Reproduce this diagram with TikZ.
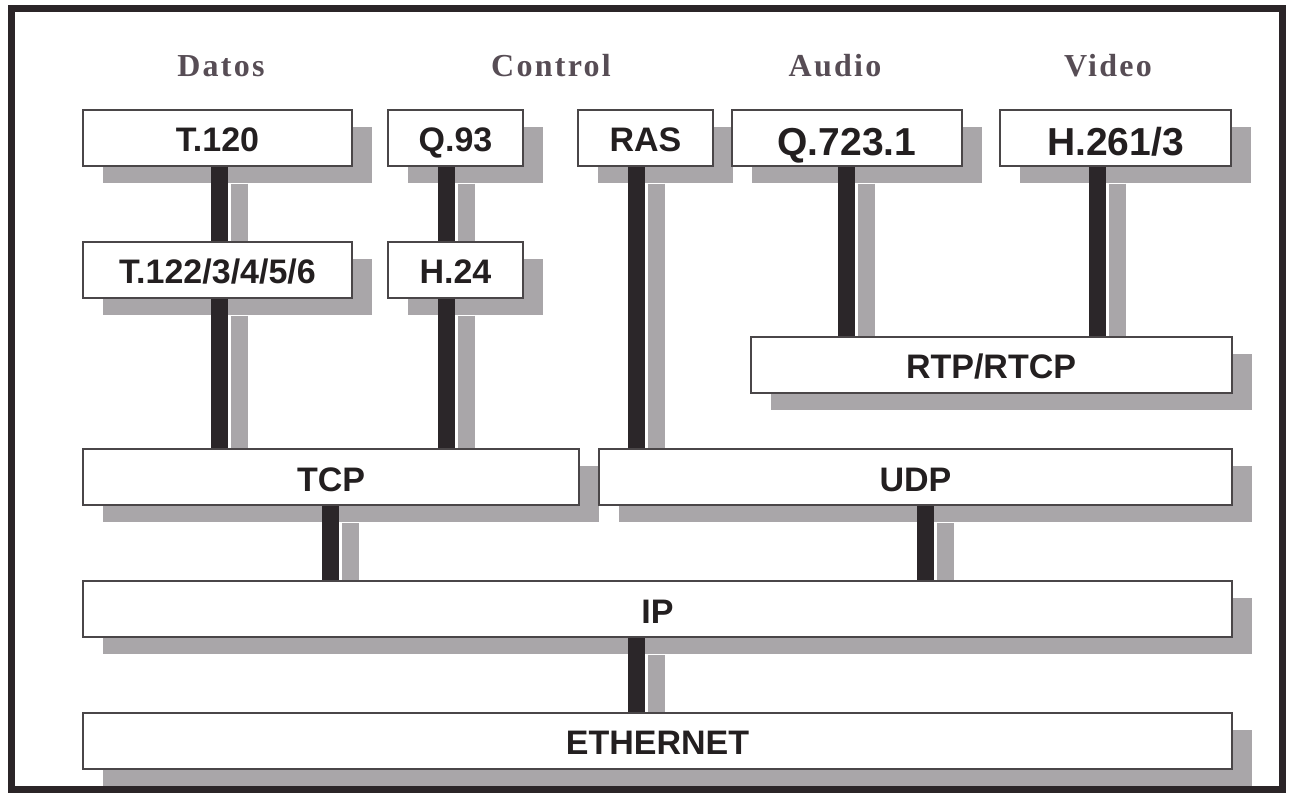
\documentclass[tikz,border=0pt]{standalone}
\usepackage{fontspec}
\setmainfont{Liberation Serif}
\newfontfamily\protofont{Liberation Sans}
\newfontfamily\headfont[LetterSpace=7]{Liberation Serif}
\usepackage{tikz}
\usetikzlibrary{backgrounds,calc,shadows}
\definecolor{framedraw}{HTML}{2B2528}
\definecolor{boxdraw}{HTML}{4A4648}
\definecolor{barcolor}{HTML}{2B2629}
\definecolor{shadowgrey}{HTML}{A9A6A9}
\definecolor{textcolor}{HTML}{231F20}
\definecolor{headcolor}{HTML}{574D55}
\tikzset{
  proto box/.style={
    rectangle,
    draw=boxdraw,
    fill=white,
    line width=1pt,
    minimum height=28pt,
    inner sep=0pt,
    text=textcolor,
    text height=14.2pt,
    text depth=0pt,
    font=\protofont\bfseries\fontsize{17}{20}\selectfont,
    drop shadow={shadow xshift=10pt,shadow yshift=-8.5pt,fill=shadowgrey,opacity=1}
  },
  big label/.style={
    text height=17.5pt,
    font=\protofont\bfseries\fontsize{19.5}{22}\selectfont
  },
  layer title/.style={
    font=\headfont\bfseries\fontsize{16}{18}\selectfont,
    text=headcolor,
    anchor=base
  },
  link/.style={
    draw=barcolor,
    line width=8.5pt
  },
  link shadow/.style={
    draw=shadowgrey,
    line width=8.5pt
  },
  frame/.style={
    draw=framedraw,
    line width=3.5pt
  }
}
\newcommand{\connectlayers}[3]{%
  \begin{scope}[on background layer]
    \draw[link shadow] ($(#1.south -| #3)+(20,17)$) -- ($(#2.north -| #3)+(20,17)$);
  \end{scope}
  \draw[link] (#1.south -| #3) -- (#2.north -| #3);
}

\begin{document}
\begin{tikzpicture}[x=0.5pt,y=-0.5pt]
  \useasboundingbox (0,0) rectangle (1292,794);
  \draw[frame] (11,8) rectangle (1282,789);

  % columns of the vertical bars
  \coordinate (col-datos) at (219,0);
  \coordinate (col-control) at (446,0);
  \coordinate (col-ras) at (636,0);
  \coordinate (col-audio) at (846,0);
  \coordinate (col-video) at (1097,0);
  \coordinate (col-tcp) at (330,0);
  \coordinate (col-udp) at (925,0);

  \node[layer title] (datos) at (221,76) {Datos};
  \node[layer title] (control) at (551,76) {Control};
  \node[layer title] (audio) at (835,76) {Audio};
  \node[layer title] (video) at (1108,76) {Video};

  \node[proto box,minimum width=134.5pt] (T120) at (217.5,137.5) {T.120};
  \node[proto box,minimum width=67.5pt] (Q93) at (455.5,137.5) {Q.93};
  \node[proto box,minimum width=67.5pt] (RAS) at (645.5,137.5) {RAS};
  \node[proto box,big label,minimum width=115pt] (Q7231) at (847,137.5) {Q.723.1};
  \node[proto box,big label,minimum width=115.5pt] (H2613) at (1115.5,137.5) {H.261/3};

  \node[proto box,minimum width=134.5pt] (T122) at (217.5,269.5) {T.122/3/4/5/6};
  \node[proto box,minimum width=67.5pt] (H24) at (455.5,269.5) {H.24};

  \node[proto box,minimum width=240.5pt] (RTP) at (991,364.5) {RTP/RTCP};

  \node[proto box,minimum width=248pt] (TCP) at (331,477) {TCP};
  \node[proto box,minimum width=316.5pt] (UDP) at (915.5,477) {UDP};

  \node[proto box,minimum width=574.5pt] (IP) at (657.5,609) {IP};
  \node[proto box,minimum width=574.5pt] (ETH) at (657.5,740.5) {ETHERNET};

  \connectlayers{T120}{T122}{col-datos}
  \connectlayers{T122}{TCP}{col-datos}
  \connectlayers{Q93}{H24}{col-control}
  \connectlayers{H24}{TCP}{col-control}
  \connectlayers{RAS}{UDP}{col-ras}
  \connectlayers{Q7231}{RTP}{col-audio}
  \connectlayers{H2613}{RTP}{col-video}
  \connectlayers{TCP}{IP}{col-tcp}
  \connectlayers{UDP}{IP}{col-udp}
  \connectlayers{IP}{ETH}{col-ras}
\end{tikzpicture}
\end{document}
